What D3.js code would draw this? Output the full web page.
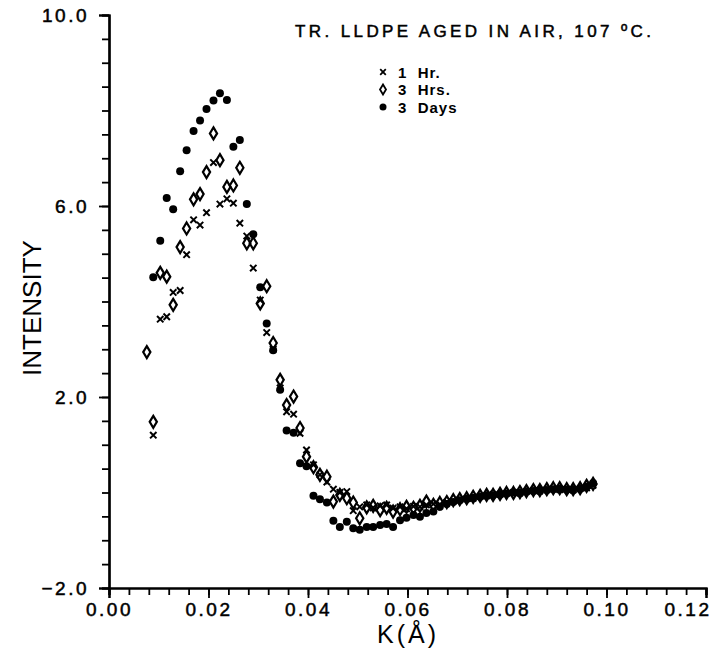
<!DOCTYPE html>
<html>
<head>
<meta charset="utf-8">
<script src="https://cdn.jsdelivr.net/npm/d3@7"></script>
<style>
    body { margin: 0; background: #fff; }
    text { font-family: "Liberation Sans", Arial, sans-serif; fill: #000; }
</style>
</head>
<body>
<svg id="chart" width="713" height="650"></svg>
<script>
    // scattering vector K (1/A), same grid for all three runs
    let kValues = [0.0076, 0.0089, 0.0103, 0.0116, 0.0129, 0.0143, 0.0156, 0.0170, 0.0183, 0.0196,
        0.0210, 0.0223, 0.0237, 0.0250, 0.0263, 0.0277, 0.0290, 0.0304, 0.0317, 0.0330,
        0.0344, 0.0357, 0.0371, 0.0384, 0.0397, 0.0411, 0.0424, 0.0438, 0.0451, 0.0464,
        0.0478, 0.0491, 0.0504, 0.0518, 0.0531, 0.0545, 0.0558, 0.0571, 0.0585, 0.0598,
        0.0612, 0.0625, 0.0638, 0.0652, 0.0665, 0.0679, 0.0692, 0.0705, 0.0719, 0.0732,
        0.0746, 0.0759, 0.0772, 0.0786, 0.0799, 0.0813, 0.0826, 0.0839, 0.0853, 0.0866,
        0.0880, 0.0893, 0.0906, 0.0920, 0.0933, 0.0947, 0.0960, 0.0973]

    let hr1 = [null, 1.20, 3.63, 3.68, 4.19, 4.23, 4.98, 5.71, 5.60, 5.86,
        6.91, 6.04, 6.15, 6.06, 5.64, 5.37, 4.70, 4.03, 3.35, 3.00,
        2.19, 1.69, 1.64, 1.24, 0.89, 0.58, 0.37, 0.22, 0.07, 0.00,
        0.02, -0.38, -0.30, -0.26, -0.32, -0.28, -0.26, -0.33, -0.30, -0.34,
        -0.29, -0.30, -0.26, -0.24, -0.25, -0.20, -0.18, -0.15, -0.13, -0.12,
        -0.08, -0.07, -0.04, -0.04, -0.02, 0.00, -0.01, 0.02, 0.04, 0.03,
        0.06, 0.08, 0.06, 0.07, 0.05, 0.08, 0.10, 0.15]

    let hr3 = [2.94, 1.48, 4.60, 4.52, 3.93, 5.14, 5.53, 6.14, 6.25, 6.71,
        7.52, 6.96, 6.40, 6.43, 6.80, 5.22, 5.22, 3.96, 4.32, 3.13,
        2.36, 1.83, 2.01, 1.35, 0.75, 0.53, 0.37, 0.33, -0.19, -0.05,
        -0.12, -0.21, -0.54, -0.31, -0.28, -0.37, -0.32, -0.40, -0.35, -0.30,
        -0.32, -0.28, -0.19, -0.26, -0.22, -0.20, -0.16, -0.14, -0.12, -0.09,
        -0.07, -0.05, -0.05, -0.03, -0.01, -0.01, 0.01, 0.03, 0.05, 0.05,
        0.07, 0.09, 0.09, 0.07, 0.07, 0.09, 0.14, 0.18]

    let day3 = [null, 4.51, 5.27, 6.17, 5.93, 6.73, 7.17, 7.57, 7.79, 8.03,
        8.21, 8.36, 8.22, 7.24, 7.38, 6.04, 5.41, 4.30, 3.54, 2.98,
        2.15, 1.30, 1.25, 0.61, 0.55, -0.07, -0.14, -0.21, -0.59, -0.72,
        -0.61, -0.75, -0.78, -0.72, -0.72, -0.68, -0.66, -0.72, -0.58, -0.53,
        -0.47, -0.51, -0.43, -0.40, -0.30, -0.24, -0.20, -0.16, -0.13, -0.11,
        -0.09, -0.06, -0.06, -0.03, -0.02, 0.00, 0.00, 0.02, 0.03, 0.05,
        0.05, 0.07, 0.08, 0.06, 0.07, 0.09, 0.12, 0.20]

    let xMajor = [0, 0.02, 0.04, 0.06, 0.08, 0.10, 0.12]
    let yMajor = [-2, 2, 6, 10]
    let legendLabels = ["1 Hr.", "3 Hrs.", "3 Days"]

    let svg = d3.select("#chart")

    let xScale = d3.scaleLinear().domain([0, 0.12]).range([109, 706])
    let yScale = d3.scaleLinear().domain([-2, 10]).range([588, 15])

    // minor ticks first, then majors with labels
    let xMinorAxis = d3.axisBottom(xScale)
        .tickValues(d3.range(0, 0.1201, 0.004))
        .tickSize(7).tickFormat("")
    let xAxis = d3.axisBottom(xScale)
        .tickValues(xMajor).tickSize(10).tickPadding(5)
        .tickFormat(d3.format(".2f"))
    let yMinorAxis = d3.axisLeft(yScale)
        .tickValues(d3.range(-2, 10.01, 0.5))
        .tickSize(7).tickFormat("")
    let yAxis = d3.axisLeft(yScale)
        .tickValues(yMajor).tickSize(10).tickPadding(10)
        .tickFormat(d3.format(".1f"))

    function styleAxis(g) {
        g.select(".domain").attr("stroke-width", 2.2)
        g.selectAll(".tick line").attr("stroke-width", 1.8)
        g.selectAll("text")
            .style("font-size", "19px")
            .style("letter-spacing", "2.5px")
            .attr("stroke", "#000").attr("stroke-width", 0.5)
    }

    svg.append("g").attr("transform", "translate(0,588)").call(xMinorAxis).call(styleAxis)
    let xg = svg.append("g").attr("transform", "translate(0,588)").call(xAxis).call(styleAxis)
    svg.append("g").attr("transform", "translate(109,0)").call(yMinorAxis).call(styleAxis)
    svg.append("g").attr("transform", "translate(109,0)").call(yAxis).call(styleAxis)

    // last x label is pulled in so it stays on the page
    xg.selectAll(".tick text").filter(d => d === 0.12)
        .attr("text-anchor", "end").attr("x", 5)

    // axis titles
    svg.append("text")
        .attr("transform", "translate(41,308) rotate(-90)")
        .attr("text-anchor", "middle")
        .style("font-size", "26px")
        .text("INTENSITY")

    svg.append("text")
        .attr("x", 408).attr("y", 643)
        .attr("text-anchor", "middle")
        .style("font-size", "25px")
        .style("letter-spacing", "3px")
        .text("K(Å)")

    // markers
    let markers = {
        cross: "M-3.2,-3.2L3.2,3.2M-3.2,3.2L3.2,-3.2",
        diamond: "M0,-6L3.6,0L0,6L-3.6,0Z"
    }

    function drawSeries(values, kind) {
        let pts = values.map((v, i) => ({ k: kValues[i], v: v })).filter(d => d.v !== null)
        let g = svg.append("g")
        if (kind === "star") {
            g.selectAll("circle").data(pts).enter().append("circle")
                .attr("cx", d => xScale(d.k))
                .attr("cy", d => yScale(d.v))
                .attr("r", 4)
                .attr("fill", "#000")
        } else {
            g.selectAll("path").data(pts).enter().append("path")
                .attr("transform", d => "translate(" + xScale(d.k) + "," + yScale(d.v) + ")")
                .attr("d", markers[kind])
                .attr("fill", "none")
                .attr("stroke", "#000")
                .attr("stroke-width", kind === "cross" ? 2 : 2.2)
        }
    }

    drawSeries(hr1, "cross")
    drawSeries(hr3, "diamond")
    drawSeries(day3, "star")

    // title and legend
    svg.append("text")
        .attr("x", 295).attr("y", 37)
        .attr("textLength", 356)
        .style("font-size", "17px")
        .attr("stroke", "#000").attr("stroke-width", 0.5)
        .text("TR. LLDPE AGED IN AIR, 107 ºC.")

    let legend = svg.append("g")
    let kinds = ["cross", "diamond", "star"]
    legendLabels.forEach((lab, i) => {
        let ly = 72 + i * 17.5
        if (kinds[i] === "star") {
            legend.append("circle").attr("cx", 383).attr("cy", ly).attr("r", 3.5).attr("fill", "#000")
        } else {
            legend.append("path")
                .attr("transform", "translate(383," + ly + ")")
                .attr("d", kinds[i] === "cross" ? "M-2.8,-2.8L2.8,2.8M-2.8,2.8L2.8,-2.8" : "M0,-5L3,0L0,5L-3,0Z")
                .attr("fill", "none").attr("stroke", "#000").attr("stroke-width", 1.8)
        }
        legend.append("text")
            .attr("x", 398).attr("y", ly + 5.5)
            .style("font-size", "15px")
            .style("font-weight", "bold")
            .style("letter-spacing", "1px")
            .attr("xml:space", "preserve")
            .text(lab.replace(" ", "  "))
    })
</script>
</body>
</html>
